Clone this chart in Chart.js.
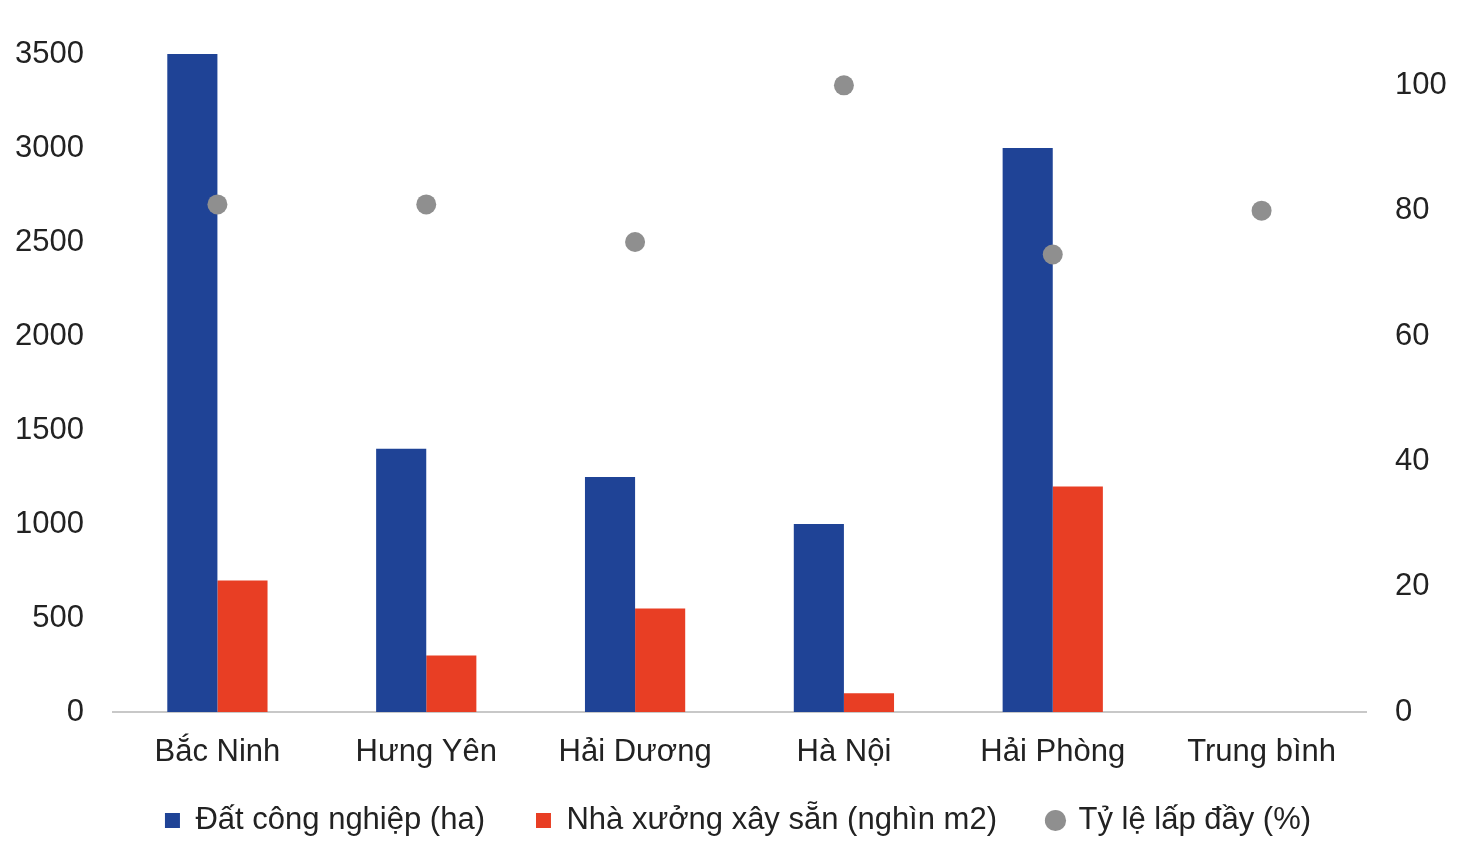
<!DOCTYPE html>
<html>
<head>
<meta charset="utf-8">
<script src="https://cdn.jsdelivr.net/npm/chart.js@4/dist/chart.umd.min.js"></script>
<style>
  html, body { margin: 0; padding: 0; background: #fff; }
  #wrap { width: 1476px; height: 860px; }
</style>
</head>
<body>
<div id="wrap"><canvas id="chart" width="1476" height="860"></canvas></div>
<script>
// Data
const provinces = ["Bắc Ninh", "Hưng Yên", "Hải Dương", "Hà Nội", "Hải Phòng", "Trung bình"];
const industrialLand = [3500, 1400, 1250, 1000, 3000, null];   // ha
const readyFactories = [700, 300, 550, 100, 1200, null];       // nghìn m2
const occupancyRate = [81, 81, 75, 100, 73, 80];               // %
const leftTicks = [0, 500, 1000, 1500, 2000, 2500, 3000, 3500];
const rightTicks = [0, 20, 40, 60, 80, 100];

const FONT = "'Liberation Sans', Arial, sans-serif";
const TEXT = "#222222";
const SIZE = 31;

const ctx = document.getElementById("chart");

const chart = new Chart(ctx, {
  data: {
    labels: provinces,
    datasets: [
      {
        type: "bar",
        label: "Đất công nghiệp (ha)",
        data: industrialLand,
        backgroundColor: "#1f4396",
        yAxisID: "y",
        order: 1
      },
      {
        type: "bar",
        label: "Nhà xưởng xây sẵn (nghìn m2)",
        data: readyFactories,
        backgroundColor: "#e83e24",
        yAxisID: "y",
        order: 1
      },
      {
        type: "line",
        label: "Tỷ lệ lấp đầy (%)",
        data: occupancyRate,
        showLine: false,
        pointRadius: 10,
        pointHoverRadius: 10,
        pointBackgroundColor: "#8f8f8f",
        pointBorderWidth: 0,
        backgroundColor: "#8f8f8f",
        borderColor: "#8f8f8f",
        yAxisID: "y1",
        order: 0
      }
    ]
  },
  options: {
    responsive: false,
    animation: false,
    layout: { padding: { top: 54, right: 0, bottom: 14, left: 0 } },
    datasets: {
      bar: { categoryPercentage: 0.48, barPercentage: 1.0 }
    },
    plugins: {
      tooltip: { enabled: false },
      legend: {
        position: "bottom",
        labels: {
          usePointStyle: true,
          boxWidth: 15,
          boxHeight: 15,
          padding: 51,
          color: TEXT,
          font: { family: FONT, size: SIZE },
          sort: (a, b) => a.datasetIndex - b.datasetIndex,
          generateLabels(c) {
            const items = Chart.defaults.plugins.legend.labels.generateLabels(c);
            items.forEach(it => {
              it.pointStyle = it.datasetIndex === 2 ? "circle" : "rect";
              it.lineWidth = 0;
              it.strokeStyle = "rgba(0,0,0,0)";
            });
            return items;
          }
        }
      }
    },
    scales: {
      x: {
        grid: { display: false },
        border: { display: true, color: "#c8c8c8", width: 2 },
        ticks: { color: TEXT, font: { family: FONT, size: SIZE }, padding: 14, maxRotation: 0 },
        afterFit(scale) {
          scale.height = 42;
          // labels hang below the short axis box, so don't clip them
          scale._computeLabelArea = () => undefined;
        }
      },
      y: {
        position: "left",
        min: 0,
        max: 3500,
        grid: { display: false, drawTicks: false },
        border: { display: false },
        afterBuildTicks(scale) { scale.ticks = leftTicks.map(v => ({ value: v })); },
        ticks: { color: TEXT, font: { family: FONT, size: SIZE }, padding: 29, callback: v => String(v) },
        afterFit(scale) { scale.width = 113; }
      },
      y1: {
        position: "right",
        min: 0,
        max: 105,
        grid: { display: false, drawTicks: false },
        border: { display: false },
        afterBuildTicks(scale) { scale.ticks = rightTicks.map(v => ({ value: v })); },
        ticks: { color: TEXT, font: { family: FONT, size: SIZE }, padding: 29, callback: v => String(v) },
        afterFit(scale) { scale.width = 110; }
      }
    }
  }
});
</script>
</body>
</html>
